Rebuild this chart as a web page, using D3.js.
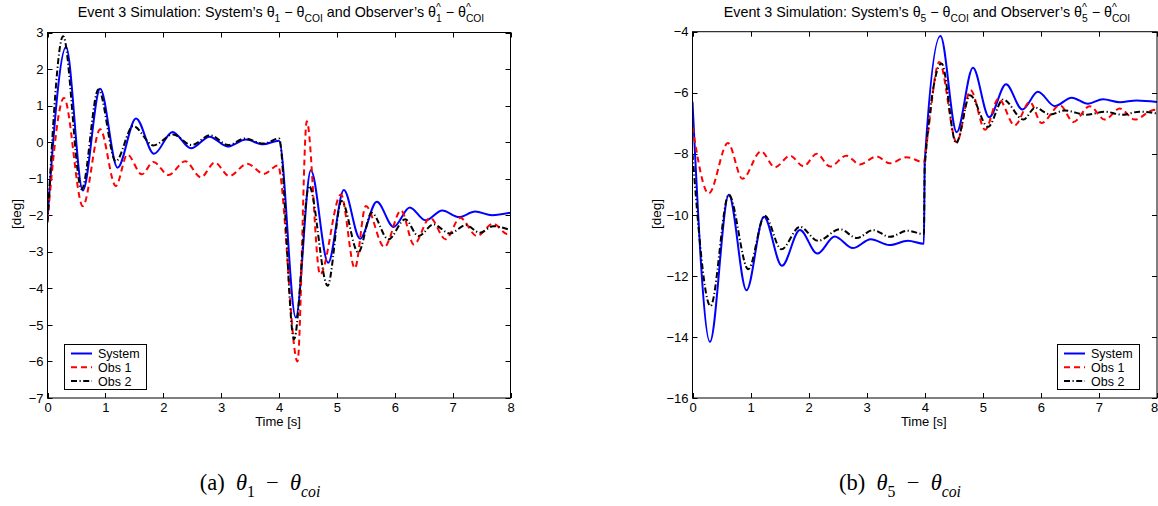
<!DOCTYPE html>
<html>
<head>
<meta charset="utf-8">
<script src="https://cdn.jsdelivr.net/npm/d3@7"></script>
<style>
  html, body { margin: 0; padding: 0; background: #fff; }
  svg { display: block; font-family: "Liberation Sans", Arial, Helvetica, sans-serif; }
</style>
</head>
<body>
<svg id="chart" width="1158" height="506"></svg>
<script>
// ---------------- DATA ----------------
const xTicks = [0, 1, 2, 3, 4, 5, 6, 7, 8];
const leftYTicks = [3, 2, 1, 0, -1, -2, -3, -4, -5, -6, -7];
const rightYTicks = [-4, -6, -8, -10, -12, -14, -16];
const seriesNames = ["System", "Obs 1", "Obs 2"];

// Left panel: theta_1 - theta_COI  ([time s, deg])
const leftSystem = [
  [0, -2.07], [0.32, 2.6], [0.61, -1.32], [0.91, 1.46], [1.21, -0.70], [1.53, 0.65],
  [1.84, -0.32], [2.16, 0.28], [2.48, -0.17], [2.80, 0.15], [3.11, -0.12], [3.43, 0.07],
  [3.72, -0.06], [4.0, 0.04], [4.29, -4.80], [4.55, -0.77], [4.85, -3.30], [5.12, -1.31],
  [5.40, -2.64], [5.69, -1.63], [5.98, -2.32], [6.26, -1.79], [6.53, -2.14], [6.82, -1.87],
  [7.11, -2.05], [7.39, -1.90], [7.68, -2.0], [8.0, -1.93]
];
const leftObs1 = [
  [0, -2.15], [0.285, 1.21], [0.61, -1.75], [0.91, 0.35], [1.18, -1.2], [1.38, -0.34],
  [1.63, -0.88], [1.83, -0.54], [2.09, -0.90], [2.38, -0.52], [2.65, -0.96], [2.89, -0.56],
  [3.14, -0.93], [3.45, -0.59], [3.74, -0.87], [3.98, -0.64], [4.32, -6.0], [4.48, 0.57],
  [4.71, -3.62], [5.07, -1.43], [5.31, -3.45], [5.50, -1.75], [5.82, -2.87], [6.11, -1.87],
  [6.33, -2.80], [6.61, -2.07], [6.88, -2.66], [7.13, -2.07], [7.42, -2.57], [7.70, -2.23],
  [7.95, -2.52], [8.0, -2.48]
];
const leftObs2 = [
  [0, -2.2], [0.27, 2.9], [0.59, -1.29], [0.88, 1.44], [1.18, -0.52], [1.48, 0.44],
  [1.83, -0.09], [2.17, 0.21], [2.49, -0.08], [2.81, 0.19], [3.12, -0.08], [3.41, 0.10],
  [3.73, -0.04], [4.0, 0.1], [4.26, -5.39], [4.52, -1.20], [4.84, -3.93], [5.08, -1.61],
  [5.37, -3.02], [5.60, -1.93], [5.89, -2.66], [6.18, -2.11], [6.41, -2.57], [6.67, -2.25],
  [6.95, -2.50], [7.23, -2.27], [7.47, -2.48], [7.70, -2.30], [8.0, -2.41]
];

// Right panel: theta_5 - theta_COI
const rightSystem = [
  [0, -6.3], [0.30, -14.16], [0.625, -9.34], [0.93, -12.47], [1.23, -10.06], [1.54, -11.67],
  [1.85, -10.50], [2.15, -11.27], [2.45, -10.71], [2.76, -11.09], [3.07, -10.80], [3.39, -10.99],
  [3.71, -10.85], [3.985, -10.95], [4.0, -8.3], [4.27, -4.14], [4.55, -7.29], [4.83, -5.18],
  [5.11, -6.80], [5.40, -5.72], [5.68, -6.55], [5.95, -5.97], [6.24, -6.44], [6.53, -6.16],
  [6.81, -6.36], [7.07, -6.21], [7.36, -6.31], [7.65, -6.25], [8.0, -6.30]
];
const rightObs1 = [
  [0, -7.12], [0.28, -9.30], [0.61, -7.65], [0.86, -8.82], [1.18, -7.92], [1.42, -8.44],
  [1.68, -8.06], [1.91, -8.41], [2.14, -8.0], [2.37, -8.42], [2.65, -8.06], [2.88, -8.35],
  [3.17, -8.09], [3.40, -8.31], [3.69, -8.11], [3.985, -8.28], [4.03, -7.7], [4.25, -4.99],
  [4.55, -7.62], [4.79, -5.92], [5.04, -7.21], [5.27, -6.19], [5.55, -7.07], [5.81, -6.30],
  [6.01, -6.99], [6.33, -6.41], [6.56, -6.96], [6.84, -6.44], [7.10, -6.88], [7.36, -6.52],
  [7.62, -6.88], [7.91, -6.58], [8.0, -6.55]
];
const rightObs2 = [
  [0, -8.0], [0.31, -12.99], [0.625, -9.34], [0.96, -11.78], [1.245, -10.03], [1.53, -11.13],
  [1.85, -10.39], [2.16, -10.85], [2.54, -10.47], [2.83, -10.76], [3.11, -10.50], [3.40, -10.72],
  [3.70, -10.52], [3.985, -10.63], [4.0, -8.4], [4.29, -5.04], [4.54, -7.65], [4.78, -6.08],
  [5.09, -7.12], [5.35, -6.22], [5.70, -6.88], [5.90, -6.49], [6.16, -6.71], [6.41, -6.58],
  [6.79, -6.72], [7.10, -6.62], [7.40, -6.72], [7.70, -6.62], [8.0, -6.68]
];

// ---------------- DRAW ----------------
const svg = d3.select("#chart");
const SANS = "'Liberation Sans', Arial, Helvetica, sans-serif";
const SERIF = "'Liberation Serif', 'DejaVu Serif', serif";
const styles = [
  { color: "#0000ff", dash: null },
  { color: "#ff0000", dash: "6,4" },
  { color: "#000000", dash: "6,2.5,1.2,2.5" }
];

const measurer = svg.append("text").attr("x", -1000).attr("y", -1000);
function textWidth(s, size, family) {
  measurer.style("font-family", family).style("font-size", size + "px").text(s);
  return measurer.node().getComputedTextLength();
}

function richText(parent, x, y, parts, opts) {
  const fs = opts.size, fam = opts.family || SANS;
  const t = parent.append("text").attr("x", x).attr("y", y)
    .attr("text-anchor", opts.anchor || "middle")
    .style("font-size", fs + "px").style("font-family", fam);
  let cur = 0, lastSup = null;
  parts.forEach(p => {
    const small = fs * (opts.subScale || 0.72);
    const target = p.k === "sub" ? fs * 0.33 : p.k === "sup" ? -fs * 0.42 : 0;
    const size = p.k === "n" ? fs : small;
    const ts = t.append("tspan").attr("dy", (target - cur).toFixed(2))
      .style("font-size", size + "px").text(p.s);
    if (p.italic) ts.style("font-style", "italic");
    if (p.back && lastSup) ts.attr("dx", -textWidth(lastSup, small, fam));
    lastSup = p.k === "sup" ? p.s : null;
    cur = target;
  });
  return t;
}

function panel(cfg) {
  const x = d3.scaleLinear().domain([0, 8]).range([cfg.x0, cfg.x1]);
  const y = d3.scaleLinear().domain(cfg.yDomain).range([cfg.yBottom, cfg.yTop]);
  const g = svg.append("g");
  const clipId = "clip" + cfg.id;
  svg.append("clipPath").attr("id", clipId).append("rect")
    .attr("x", cfg.x0).attr("y", cfg.yTop).attr("width", cfg.x1 - cfg.x0).attr("height", cfg.yBottom - cfg.yTop);

  const tl = 5;
  const ax = d3.axisBottom(x).tickValues(xTicks).tickSize(0).tickPadding(5).tickFormat(d3.format("d"));
  const gx = g.append("g").attr("transform", `translate(0,${cfg.yBottom})`).call(ax);
  gx.select(".domain").remove();
  gx.selectAll("text").style("font-size", "13px").style("font-family", SANS);
  gx.selectAll(".tick").filter(d => x(d) > 1150).select("text").attr("x", -3);
  const fmt = d => (d < 0 ? "\u2212" + Math.abs(d) : String(d));
  const ay = d3.axisLeft(y).tickValues(cfg.yTicks).tickSize(0).tickPadding(4).tickFormat(fmt);
  const gy = g.append("g").attr("transform", `translate(${cfg.x0},0)`).call(ay);
  gy.select(".domain").remove();
  gy.selectAll("text").style("font-size", "13px").style("font-family", SANS);

  const tk = g.append("g").attr("stroke", "#000").attr("stroke-width", 1);
  xTicks.forEach(v => {
    const px = Math.round(x(v)) + 0.5;
    tk.append("line").attr("x1", px).attr("x2", px).attr("y1", cfg.yBottom).attr("y2", cfg.yBottom - tl);
    tk.append("line").attr("x1", px).attr("x2", px).attr("y1", cfg.yTop).attr("y2", cfg.yTop + tl);
  });
  cfg.yTicks.forEach(v => {
    const py = Math.round(y(v)) + 0.5;
    tk.append("line").attr("x1", cfg.x0).attr("x2", cfg.x0 + tl).attr("y1", py).attr("y2", py);
    tk.append("line").attr("x1", cfg.x1).attr("x2", cfg.x1 - tl).attr("y1", py).attr("y2", py);
  });

  const line = d3.line().x(d => x(d[0])).y(d => y(d[1])).curve(d3.curveMonotoneX);
  const lg = g.append("g").attr("clip-path", `url(#${clipId})`);
  cfg.series.forEach((s, i) => {
    lg.append("path").datum(s).attr("d", line).attr("fill", "none")
      .attr("stroke", styles[i].color).attr("stroke-width", 2)
      .attr("stroke-dasharray", styles[i].dash)
      .attr("stroke-linejoin", "round");
  });
  g.append("rect").attr("x", cfg.x0).attr("y", cfg.yTop).attr("width", cfg.x1 - cfg.x0)
    .attr("height", cfg.yBottom - cfg.yTop).attr("fill", "none").attr("stroke", "#000").attr("stroke-width", 1);

  g.append("text").attr("x", (cfg.x0 + cfg.x1) / 2 - 1).attr("y", 426).attr("text-anchor", "middle")
    .style("font-size", "13px").text("Time [s]");
  g.append("text").attr("transform", `translate(${cfg.ylabX},214) rotate(-90)`).attr("text-anchor", "middle")
    .style("font-size", "13.5px").text("[deg]");

  richText(g, cfg.titleX, 17, cfg.title, { size: 14.3 });

  const lgX = cfg.legX, lgY = 344, lw = 82, lh = 45;
  const leg = g.append("g");
  leg.append("rect").attr("x", lgX + 0.5).attr("y", lgY + 0.5).attr("width", lw).attr("height", lh)
    .attr("fill", "#fff").attr("stroke", "#000").attr("stroke-width", 1);
  seriesNames.forEach((n, i) => {
    const cy = lgY + 9.5 + i * 13.8;
    leg.append("line").attr("x1", lgX + 7).attr("x2", lgX + 28).attr("y1", cy).attr("y2", cy)
      .attr("stroke", styles[i].color).attr("stroke-width", 2).attr("stroke-dasharray", styles[i].dash);
    leg.append("text").attr("x", lgX + 34).attr("y", cy + 4.5).style("font-size", "12.5px").text(n);
  });

  richText(svg, cfg.capX, 490, cfg.caption, { size: 22.5, family: SERIF, subScale: 0.7 });
}

const titleParts = n => [
  { s: "Event 3 Simulation: System\u2019s \u03B8", k: "n" }, { s: n, k: "sub" },
  { s: " \u2212 \u03B8", k: "n" }, { s: "COI", k: "sub" },
  { s: " and Observer\u2019s \u03B8", k: "n" }, { s: "^", k: "sup" }, { s: n, k: "sub", back: true },
  { s: " \u2212 \u03B8", k: "n" }, { s: "^", k: "sup" }, { s: "COI", k: "sub", back: true }
];
const capParts = (lab, n) => [
  { s: "(" + lab + ")\u2002", k: "n" }, { s: "\u03B8", k: "n", italic: true }, { s: n, k: "sub" },
  { s: "\u2002\u2212\u2002", k: "n" }, { s: "\u03B8", k: "n", italic: true }, { s: "coi", k: "sub", italic: true }
];

panel({
  id: "L", x0: 47.5, x1: 510.5, yTop: 32.5, yBottom: 398, yDomain: [-7, 3], yTicks: leftYTicks,
  series: [leftSystem, leftObs1, leftObs2], ylabX: 21, titleX: 281, legX: 64,
  title: titleParts("1"), capX: 260, caption: capParts("a", "1")
});
panel({
  id: "R", x0: 692.5, x1: 1157, yTop: 31.7, yBottom: 398, yDomain: [-16, -4], yTicks: rightYTicks,
  series: [rightSystem, rightObs1, rightObs2], ylabX: 661, titleX: 927, legX: 1057,
  title: titleParts("5"), capX: 900, caption: capParts("b", "5")
});
measurer.remove();
</script>
</body>
</html>
